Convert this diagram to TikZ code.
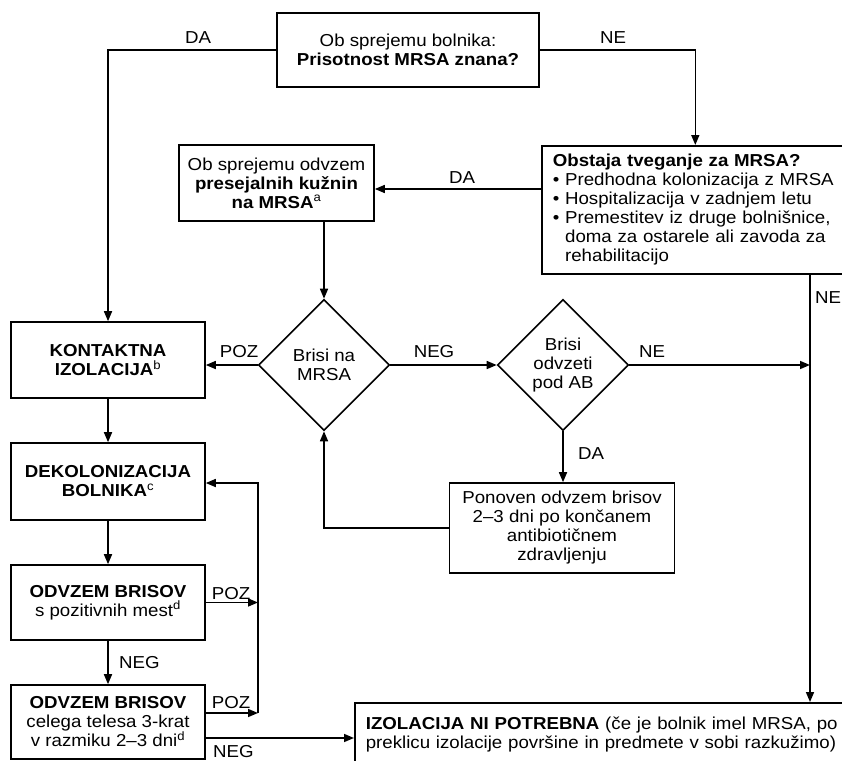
\documentclass[tikz,border=0pt]{standalone}
\usepackage{fontspec}
\setmainfont{Liberation Sans}[FakeStretch=1.08]
\usetikzlibrary{shapes.geometric,arrows.meta}
\newcommand\mainsz{\fontsize{17.3}{19}\selectfont}
\tikzset{
  box/.style={draw, line width=1.6pt, inner sep=0pt, align=center, font=\mainsz},
  dia/.style={draw, diamond, line width=1.6pt, inner sep=0pt, align=center, font=\mainsz, minimum width=131, minimum height=131},
  arr/.style={line width=1.6pt, -{Triangle[length=10pt,width=8pt]}},
  ln/.style={line width=1.6pt},
  lbl/.style={font=\mainsz, inner sep=0pt}
}
\begin{document}
\begin{tikzpicture}[x=1pt,y=-1pt]
\useasboundingbox (0,0) rectangle (842,760);

% boxes
\node[box, minimum width=262, minimum height=74] (top) at (408,50)
  {Ob sprejemu bolnika:\\\textbf{Prisotnost MRSA znana?}};
\node[box, anchor=north west, minimum height=128, text width=285, inner xsep=11, align=left] (obst) at (541,145)
  {\textbf{Obstaja tveganje za MRSA?}\\
   \textbullet\ Predhodna kolonizacija z MRSA\\
   \textbullet\ Hospitalizacija v zadnjem letu\\
   \textbullet\ Premestitev iz druge bolnišnice,\\
   \hphantom{\textbullet\ }doma za ostarele ali zavoda za\\
   \hphantom{\textbullet\ }rehabilitacijo};
\node[box, minimum width=195, minimum height=76] (pres) at (276.5,183)
  {Ob sprejemu odvzem\\\textbf{presejalnih kužnin}\\\textbf{na MRSA}\textsuperscript{a}};
\node[dia] (d1) at (324,365) {Brisi na\\MRSA};
\node[dia] (d2) at (563,365) {Brisi\\odvzeti\\pod AB};
\node[box, minimum width=194, minimum height=76] (kont) at (108,360)
  {\textbf{KONTAKTNA}\\\textbf{IZOLACIJA}\textsuperscript{b}};
\node[box, minimum width=194, minimum height=77] (dek) at (108,481.5)
  {\textbf{DEKOLONIZACIJA}\\\textbf{BOLNIKA}\textsuperscript{c}};
\node[box, minimum width=194, minimum height=75] (odv1) at (108,602.5)
  {\textbf{ODVZEM BRISOV}\\s pozitivnih mest\textsuperscript{d}};
\node[box, minimum width=194, minimum height=74] (odv2) at (108,722)
  {\textbf{ODVZEM BRISOV}\\celega telesa 3-krat\\v razmiku 2–3 dni\textsuperscript{d}};
\node[box, minimum width=225, minimum height=90] (pon) at (562,528)
  {Ponoven odvzem brisov\\2–3 dni po končanem\\antibiotičnem\\zdravljenju};
\node[box, anchor=north west, minimum height=64, text width=480, inner xsep=11, align=left] (izo) at (354,702)
  {\textbf{IZOLACIJA NI POTREBNA} (če je bolnik imel MRSA, po\\preklicu izolacije površine in predmete v sobi razkužimo)};

\coordinate (ne) at (810,273);
\coordinate (vl) at (258,483);

% connectors
\draw[arr] (top.west) -- (top.west -| kont.north) -- (kont.north);
\node[lbl, anchor=base] at (198,44) {DA};
\draw[arr] (top.east) -- (top.east -| obst.north) -- (obst.north);
\node[lbl, anchor=base] at (613,44) {NE};

\draw[arr] (obst.west |- 0,189) -- (pres.east |- 0,189);
\node[lbl, anchor=base] at (462,183) {DA};

\draw[arr] (pres.south -| d1.north) -- (d1.north);

\draw[arr] (d1.east) -- (d2.west);
\node[lbl, anchor=base] at (434,357) {NEG};

\draw[arr] (d2.east) -- (d2.east -| ne);
\node[lbl, anchor=base] at (652,357) {NE};

\draw[arr] (ne) -- (ne |- izo.north);
\node[lbl, anchor=base west] at (815,303) {NE};

\draw[arr] (d1.west) -- (d1.west -| kont.east);
\node[lbl, anchor=base] at (239,357) {POZ};

\draw[arr] (d2.south) -- (d2.south |- pon.north);
\node[lbl, anchor=base] at (591,459) {DA};

\draw[arr] (pon.west) -- (pon.west -| d1.south) -- (d1.south);

\draw[arr] (kont.south) -- (dek.north);
\draw[arr] (dek.south) -- (odv1.north);
\draw[arr] (odv1.south) -- (odv2.north);
\node[lbl, anchor=base west] at (119,668) {NEG};

\draw[arr] (odv1.east) -- (odv1.east -| vl);
\node[lbl, anchor=base] at (231,599) {POZ};

\draw[arr] ([yshift=9pt]odv2.east) coordinate (p2) -- (p2 -| vl);
\node[lbl, anchor=base] at (231,708) {POZ};

\draw[arr] (p2 -| vl) -- (vl) -- (vl -| dek.east);

\draw[arr] ([yshift=-16pt]odv2.east) coordinate (p3) -- (p3 -| izo.west);
\node[lbl, anchor=base west] at (213,757) {NEG};
\end{tikzpicture}
\end{document}
